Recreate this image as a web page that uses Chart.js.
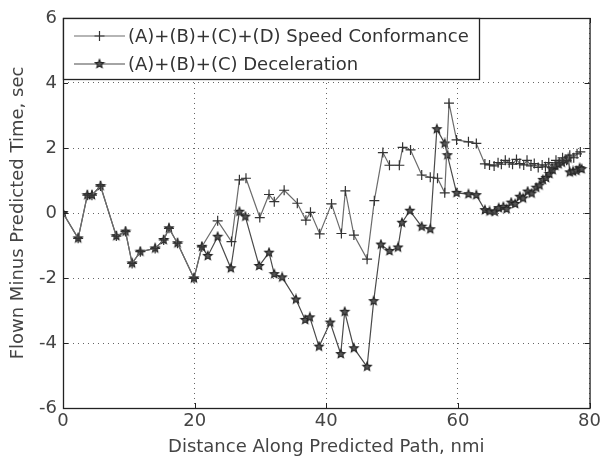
<!DOCTYPE html>
<html>
<head>
<meta charset="utf-8">
<script src="https://cdn.jsdelivr.net/npm/chart.js@4.4.0/dist/chart.umd.min.js"></script>
<style>
  html, body { margin: 0; padding: 0; background: #fff; }
  #wrap { width: 604px; height: 460px; }
</style>
</head>
<body>
<div id="wrap"><canvas id="chart" width="604" height="460"></canvas></div>
<script>
// values
const speedX = [0, 2.3, 3.7, 4.4, 5.7, 8.1, 9.5, 10.5, 11.75, 14.0, 15.3, 16.1, 17.4, 19.9,
  21.1, 23.5, 25.6, 26.8, 27.8, 29.9, 31.3, 32.1, 33.6, 35.6, 36.9, 37.6, 39.0, 40.8, 42.3, 42.9,
  44.2, 46.2, 47.3, 48.6, 49.6, 51.1, 51.6, 52.8, 54.5, 55.8, 56.9, 58.0, 58.65, 59.8, 61.6, 62.8,
  64.1, 64.8, 65.5, 66.1, 66.6, 67.2, 67.8, 68.3, 68.9, 69.4, 70.0, 70.5, 71.1, 71.6, 72.2, 72.8,
  73.3, 73.8, 74.3, 74.9, 75.4, 75.9, 76.5, 77.0, 77.6, 78.1, 78.6];
const speedY = [0, -0.78, 0.55, 0.55, 0.83, -0.71, -0.57, -1.55, -1.19, -1.09, -0.83, -0.47, -0.93, -2.01,
  -1.04, -0.24, -0.88, 1.02, 1.07, -0.14, 0.57, 0.35, 0.70, 0.30, -0.22, 0.02, -0.64, 0.28, -0.63, 0.68,
  -0.68, -1.42, 0.38, 1.86, 1.47, 1.47, 2.02, 1.94, 1.17, 1.10, 1.07, 0.62, 3.38, 2.25, 2.19, 2.14,
  1.51, 1.48, 1.45, 1.55, 1.50, 1.62, 1.55, 1.50, 1.65, 1.52, 1.48, 1.62, 1.45, 1.52, 1.40, 1.48,
  1.42, 1.55, 1.40, 1.62, 1.55, 1.70, 1.62, 1.78, 1.70, 1.82, 1.88];

const decelX = [0, 2.3, 3.7, 4.4, 5.7, 8.1, 9.5, 10.5, 11.75, 14.0, 15.3, 16.1, 17.4, 19.9,
  21.1, 22.0, 23.5, 25.5, 26.8, 27.7, 29.8, 31.3, 32.1, 33.3, 35.4, 36.8, 37.5, 38.9, 40.6, 42.2,
  42.8, 44.2, 46.2, 47.2, 48.3, 49.6, 50.9, 51.5, 52.7, 54.5, 55.8, 56.8, 58.0, 58.4, 59.8, 61.6,
  62.8, 64.1, 64.8, 65.6, 66.2, 66.9, 67.4, 68.1, 68.7, 69.4, 69.9, 70.6, 71.2, 71.9, 72.4, 72.9,
  73.4, 73.9, 74.4, 74.8, 75.3, 75.8, 76.3, 76.8, 77.0, 77.5, 78.0, 78.5, 78.8];
const decelY = [0, -0.78, 0.55, 0.55, 0.83, -0.71, -0.57, -1.55, -1.19, -1.09, -0.83, -0.47, -0.93, -2.01,
  -1.04, -1.32, -0.73, -1.70, 0.04, -0.11, -1.63, -1.22, -1.88, -1.98, -2.66, -3.29, -3.21, -4.11, -3.37, -4.34,
  -3.04, -4.16, -4.73, -2.71, -0.97, -1.17, -1.06, -0.30, 0.07, -0.42, -0.50, 2.58, 2.14, 1.78, 0.62, 0.58,
  0.55, 0.09, 0.05, 0.04, 0.15, 0.19, 0.12, 0.32, 0.28, 0.50, 0.45, 0.66, 0.60, 0.78, 0.85, 1.02,
  1.08, 1.20, 1.32, 1.45, 1.50, 1.55, 1.62, 1.68, 1.25, 1.28, 1.30, 1.38, 1.35];

const xTicks = [0, 20, 40, 60, 80];
const yTicks = [-6, -4, -2, 0, 2, 4, 6];
const seriesNames = ['(A)+(B)+(C)+(D) Speed Conformance', '(A)+(B)+(C) Deceleration'];

const FONT = '"DejaVu Sans", "Liberation Sans", Arial, sans-serif';

// pentagram marker like the matlab 'p' marker
function makeStar(r) {
  const c = document.createElement('canvas');
  const s = r * 2 + 3;
  c.width = s; c.height = s;
  const g = c.getContext('2d');
  g.beginPath();
  for (let i = 0; i < 10; i++) {
    const ang = -Math.PI / 2 + i * Math.PI / 5;
    const rr = i % 2 === 0 ? r : r * 0.45;
    const px = s / 2 + rr * Math.cos(ang), py = s / 2 + rr * Math.sin(ang);
    if (i === 0) g.moveTo(px, py); else g.lineTo(px, py);
  }
  g.closePath();
  g.fillStyle = '#555';
  g.fill();
  g.strokeStyle = '#222';
  g.lineWidth = 1.1;
  g.stroke();
  return c;
}
const starImg = makeStar(4.5);

const toPoints = (xs, ys) => xs.map((v, i) => ({ x: v, y: ys[i] }));

const extras = {
  id: 'extras',
  afterDraw(chart) {
    const { ctx, chartArea: a, scales: { x, y } } = chart;
    ctx.save();
    ctx.strokeStyle = '#222';
    ctx.lineWidth = 1.3;
    ctx.strokeRect(a.left + 0.5, a.top + 0.5, a.right - a.left, a.bottom - a.top);
    // small inward ticks on all sides
    ctx.lineWidth = 1;
    xTicks.forEach(v => {
      const px = Math.round(x.getPixelForValue(v)) + 0.5;
      ctx.beginPath();
      ctx.moveTo(px, a.bottom); ctx.lineTo(px, a.bottom - 5);
      ctx.moveTo(px, a.top); ctx.lineTo(px, a.top + 5);
      ctx.stroke();
    });
    yTicks.forEach(v => {
      const py = Math.round(y.getPixelForValue(v)) + 0.5;
      ctx.beginPath();
      ctx.moveTo(a.left, py); ctx.lineTo(a.left + 5, py);
      ctx.moveTo(a.right, py); ctx.lineTo(a.right - 5, py);
      ctx.stroke();
    });

    // legend box
    const bx = a.left, by = a.top, bw = 416, bh = 61;
    ctx.fillStyle = '#fff';
    ctx.fillRect(bx, by, bw, bh);
    ctx.strokeStyle = '#222';
    ctx.lineWidth = 1.3;
    ctx.strokeRect(bx + 0.5, by + 0.5, bw, bh);
    const rows = [by + 18, by + 46];
    chart.data.datasets.forEach((ds, i) => {
      const ry = rows[i];
      ctx.strokeStyle = ds.borderColor;
      ctx.lineWidth = 1.2;
      ctx.beginPath();
      ctx.moveTo(bx + 11, ry); ctx.lineTo(bx + 62, ry);
      ctx.stroke();
      if (ds.pointStyle === 'cross') {
        ctx.strokeStyle = '#333';
        ctx.beginPath();
        ctx.moveTo(bx + 36.5, ry - 5); ctx.lineTo(bx + 36.5, ry + 5);
        ctx.moveTo(bx + 31.5, ry); ctx.lineTo(bx + 41.5, ry);
        ctx.stroke();
      } else {
        ctx.drawImage(starImg, bx + 36.5 - starImg.width / 2, ry - starImg.height / 2);
      }
      ctx.fillStyle = '#333';
      ctx.font = '18px ' + FONT;
      ctx.textBaseline = 'middle';
      ctx.fillText(seriesNames[i], bx + 65, ry + 1);
    });
    ctx.restore();
  }
};

new Chart(document.getElementById('chart'), {
  type: 'scatter',
  data: {
    datasets: [
      {
        label: seriesNames[0],
        data: toPoints(speedX, speedY),
        showLine: true,
        borderColor: '#6c6c6c',
        borderWidth: 1.2,
        pointStyle: 'cross',
        pointRadius: 5,
        pointBorderColor: '#333',
        pointBorderWidth: 1.2,
        tension: 0
      },
      {
        label: seriesNames[1],
        data: toPoints(decelX, decelY),
        showLine: true,
        borderColor: '#4a4a4a',
        borderWidth: 1.2,
        pointStyle: starImg,
        pointRadius: 5,
        tension: 0
      }
    ]
  },
  options: {
    responsive: false,
    animation: false,
    events: [],
    layout: { padding: { top: 18, right: 12, left: 0, bottom: 0 } },
    plugins: { legend: { display: false }, tooltip: { enabled: false } },
    scales: {
      x: {
        type: 'linear',
        min: 0, max: 80,
        afterFit: s => { s.height = 52; },
        afterBuildTicks: s => { s.ticks = xTicks.map(v => ({ value: v })); },
        ticks: { color: '#444', font: { family: FONT, size: 18 }, padding: 3, maxRotation: 0 },
        grid: { color: '#666', drawTicks: false, lineWidth: 1 },
        border: { display: false, dash: [1, 4] },
        title: {
          display: true,
          text: 'Distance Along Predicted Path, nmi',
          color: '#444',
          font: { family: FONT, size: 18 },
          padding: { top: 0, bottom: 2 }
        }
      },
      y: {
        type: 'linear',
        min: -6, max: 6,
        afterFit: s => { s.width = 63; },
        afterBuildTicks: s => { s.ticks = yTicks.map(v => ({ value: v })); },
        ticks: { color: '#444', font: { family: FONT, size: 18 }, padding: 6 },
        grid: { color: '#666', drawTicks: false, lineWidth: 1 },
        border: { display: false, dash: [1, 4] },
        title: {
          display: true,
          text: 'Flown Minus Predicted Time, sec',
          color: '#444',
          font: { family: FONT, size: 18 },
          padding: { top: 8, bottom: 0 }
        }
      }
    }
  },
  plugins: [extras]
});
</script>
</body>
</html>
